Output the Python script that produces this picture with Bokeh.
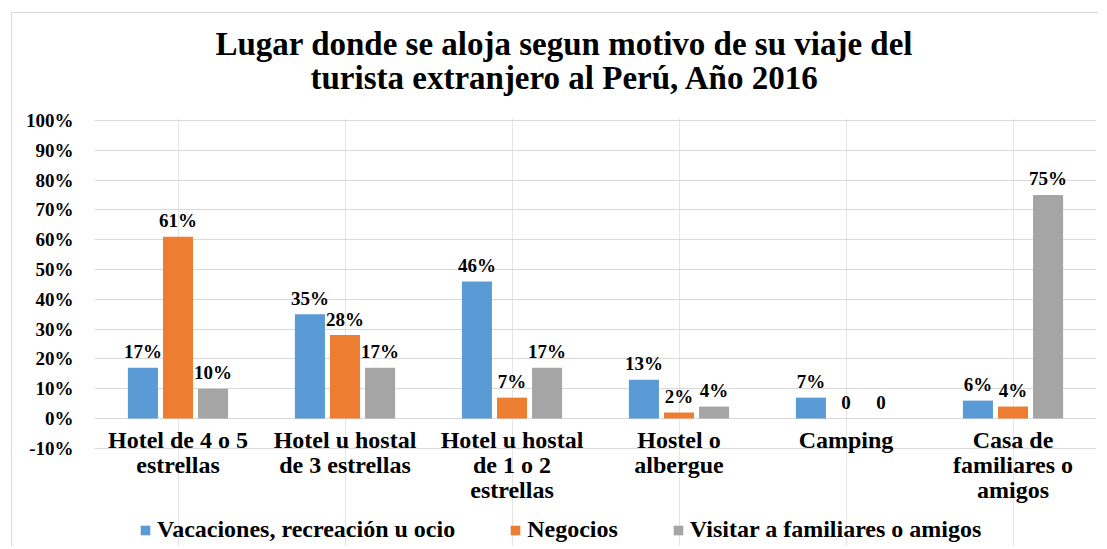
from bokeh.plotting import figure
from bokeh.models import ColumnDataSource, FixedTicker, NumeralTickFormatter, Title, Range1d
from bokeh.transform import dodge
from bokeh.core.properties import value
from bokeh.embed import file_html
from bokeh.resources import INLINE

# ---- data ----
categories = [
    "Hotel de 4 o 5\nestrellas",
    "Hotel u hostal\nde 3 estrellas",
    "Hotel u hostal\nde 1 o 2\nestrellas",
    "Hostel o\nalbergue",
    "Camping",
    "Casa de\nfamiliares o\namigos",
]
series_names = [
    "Vacaciones, recreación u ocio",
    "Negocios",
    "Visitar a familiares o amigos",
]
vacaciones = [17, 35, 46, 13, 7, 6]
negocios = [61, 28, 7, 2, 0, 4]
visitar = [10, 17, 17, 4, 0, 75]
y_ticks = [-10, 0, 10, 20, 30, 40, 50, 60, 70, 80, 90, 100]
title_lines = [
    "Lugar donde se aloja segun motivo de su viaje del",
    "turista extranjero al Perú, Año 2016",
]

# ---- style ----
colors = ["#5B9BD5", "#ED7D31", "#A5A5A5"]
offsets = [-0.21, 0.0, 0.21]
FONT = value("Liberation Serif")

p = figure(
    x_range=categories,
    y_range=Range1d(-0.4329, 1.0067),
    width=1087, height=534,
    output_backend="svg", toolbar_location=None,
    x_axis_location=None,
    min_border_left=82, min_border_right=3,
    min_border_top=105, min_border_bottom=0,
    outline_line_color=None,
)
p.styles = {"border-left": "1px solid #D9D9D9", "border-top": "1px solid #D9D9D9",
            "margin-left": "11px", "margin-top": "12px"}

# titles (second line closest to the frame)
p.title.text = title_lines[0]
p.title.align = "left"
p.title.offset = 121
p.title.standoff = -52
p.title.text_font = "Liberation Serif"
p.title.text_font_style = "bold"
p.title.text_font_size = "33px"
p.title.text_color = "black"
p.add_layout(Title(text=title_lines[1], align="left", offset=216, standoff=45,
                   text_font="Liberation Serif", text_font_style="bold",
                   text_font_size="33px", text_color="black"), "above")

# y axis
ticks = [t / 100 for t in y_ticks]
p.yaxis.ticker = FixedTicker(ticks=ticks)
p.yaxis.formatter = NumeralTickFormatter(format="0%")
p.yaxis.axis_line_color = None
p.yaxis.major_tick_line_color = None
p.yaxis.minor_tick_line_color = None
p.yaxis.major_label_standoff = 15
p.yaxis.major_label_text_font = "Liberation Serif"
p.yaxis.major_label_text_font_style = "bold"
p.yaxis.major_label_text_font_size = "19px"
p.yaxis.major_label_text_color = "black"
p.ygrid.ticker = FixedTicker(ticks=ticks)
p.ygrid.grid_line_color = "#D9D9D9"
p.ygrid.grid_line_width = 1

# bars + data labels
for name, vals, color, off in zip(series_names, [vacaciones, negocios, visitar], colors, offsets):
    src = ColumnDataSource(dict(
        cat=categories,
        val=[v / 100 for v in vals],
        lab=[f"{v}%" if v else "0" for v in vals],
    ))
    p.vbar(x=dodge("cat", off, range=p.x_range), top="val", width=0.18, source=src,
           fill_color=color, line_color=None, legend_label=name)
    p.text(x=dodge("cat", off, range=p.x_range), y="val", text="lab", source=src,
           text_align="center", text_baseline="alphabetic", y_offset=-16,
           text_font=FONT, text_font_style="bold", text_font_size="19px",
           text_color="black")

# category labels
cat_src = ColumnDataSource(dict(cat=categories, y=[0] * len(categories)))
p.text(x="cat", y="y", text="cat", source=cat_src, text_align="center",
       text_baseline="top", y_offset=9, text_line_height=0.95,
       text_font=FONT, text_font_style="bold", text_font_size="24px",
       text_color="black")

# legend
lg = p.legend[0]
lg.orientation = "horizontal"
lg.location = (45, 4)
lg.border_line_color = None
lg.background_fill_alpha = 0
lg.padding = 0
lg.margin = 0
lg.spacing = 54
lg.label_standoff = 6
lg.glyph_width = 12
lg.glyph_height = 12
lg.label_height = 24
lg.label_text_font = "Liberation Serif"
lg.label_text_font_style = "bold"
lg.label_text_font_size = "24px"
lg.label_text_color = "black"

open("out.html", "w").write(file_html(p, INLINE))
